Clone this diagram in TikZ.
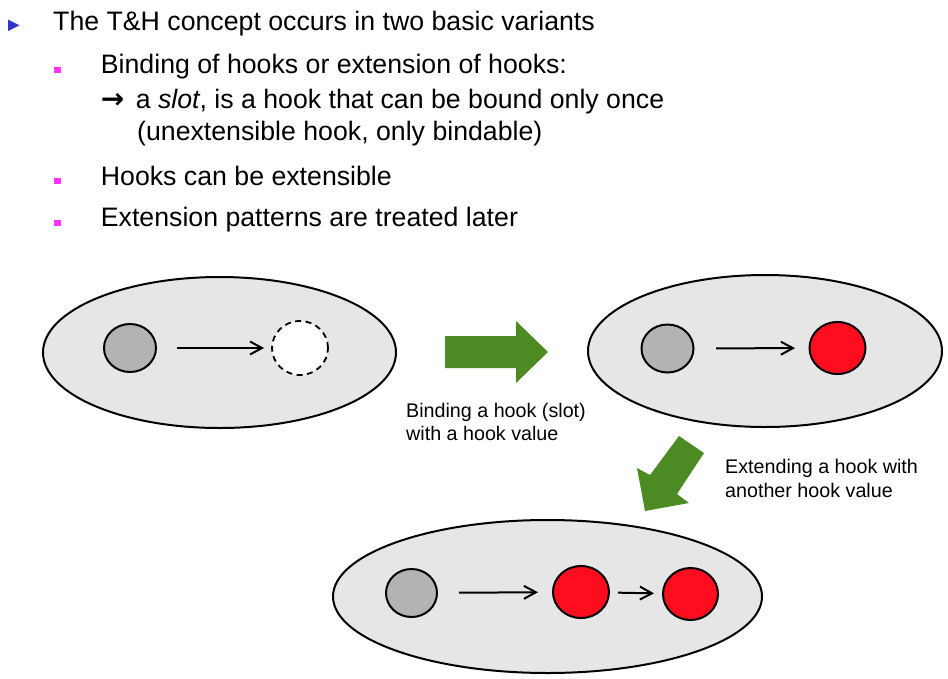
\documentclass[tikz,border=0pt]{standalone}
\usepackage{fontspec}
\setmainfont{Liberation Sans}
\newfontfamily\dejavu{DejaVu Sans}
\usetikzlibrary{shapes.geometric,arrows.meta}
\definecolor{ellfill}{HTML}{E6E6E6}
\definecolor{hookgray}{HTML}{B3B3B3}
\definecolor{hookred}{RGB}{255,13,30}
\definecolor{bigarrow}{RGB}{76,138,36}
\definecolor{bulletblue}{RGB}{51,51,204}
\definecolor{bulletmag}{RGB}{255,51,255}
\tikzset{
  bodytext/.style={anchor=base west, inner sep=0pt, font=\fontsize{26.7}{30}\selectfont},
  captext/.style={anchor=base west, inner sep=0pt, font=\fontsize{19.7}{23}\selectfont},
  container/.style={ellipse, draw=black, line width=2pt, fill=ellfill, inner sep=0pt},
  hookfrom/.style={ellipse, draw=black, line width=2pt, fill=hookgray, inner sep=0pt, minimum width=52pt, minimum height=48pt},
  hookval/.style={ellipse, draw=black, line width=2pt, fill=hookred, inner sep=0pt, minimum width=56pt, minimum height=52pt},
  slotnode/.style={ellipse, draw=black, line width=1.8pt, dash pattern=on 6pt off 4.5pt, fill=white, inner sep=0pt, minimum width=56pt, minimum height=54pt},
  link/.style={line width=2pt, -{Straight Barb[length=12pt,width=13pt,line width=2pt]}},
}
\begin{document}
\begin{tikzpicture}[x=1pt,y=-1pt]
\useasboundingbox (0,0) rectangle (948,678);
% bullets
\fill[bulletblue] (8,19.5) -- (19.5,25.3) -- (8,31) -- cycle;
\fill[bulletmag] (54,66.5) rectangle (60.7,73);
\fill[bulletmag] (54,177.5) rectangle (60.7,184);
\fill[bulletmag] (54,219.5) rectangle (60.7,226.2);
% text
\node[bodytext] (t1) at (53,30.7) {The T\&H concept occurs in two basic variants};
\node[bodytext] (b1a) at (100.7,73.3) {Binding of hooks or extension of hooks:};
\node[bodytext] (b1b) at (100.7,108.3) {{\dejavu\bfseries\fontsize{28}{30}\selectfont →}\hspace{4pt} a \textit{slot}, is a hook that can be bound only once};
\node[bodytext] (b1c) at (137,140.5) {(unextensible hook, only bindable)};
\node[bodytext] (b2) at (100.7,185) {Hooks can be extensible};
\node[bodytext] (b3) at (100.7,226.7) {Extension patterns are treated later};
% containers
\node[container, minimum width=353pt, minimum height=151pt] (e1) at (219.5,352.5) {};
\node[container, minimum width=354pt, minimum height=152pt] (e2) at (765,351) {};
\node[container, minimum width=429pt, minimum height=153pt] (e3) at (547.5,596.5) {};
% hooks
\node[hookfrom] (g1) at (130,348) {};
\node[slotnode] (d1) at (300,348) {};
\node[hookfrom] (g2) at (667.5,348.5) {};
\node[hookval] (r2) at (837.5,348) {};
\node[hookfrom, minimum width=51pt] (g3) at (411.5,593) {};
\node[hookval] (r3a) at (581,592) {};
\node[hookval, minimum width=55pt] (r3b) at (690.5,594) {};
% links
\draw[link, shorten <=20pt, shorten >=7pt] (g1) -- (d1);
\draw[link, shorten <=21.5pt, shorten >=13.5pt] (g2) -- (r2);
\draw[link, shorten <=21pt, shorten >=14pt] (g3) -- (r3a);
\draw[link, shorten <=8pt, shorten >=8pt] (r3a) -- (r3b);
% big green arrows
\fill[bigarrow] (445,336) -- (516,336) -- (516,321) -- (548,352) -- (516,383) -- (516,368) -- (445,368) -- cycle;
\fill[bigarrow] (679,436) -- (704,453) -- (677,494) -- (689,503) -- (645,511) -- (637,468) -- (650,475) -- cycle;
% captions
\node[captext] (c1a) at (406,417) {Binding a hook (slot)};
\node[captext] (c1b) at (406,440) {with a hook value};
\node[captext] (c2a) at (725,473) {Extending a hook with};
\node[captext] (c2b) at (725,497.5) {another hook value};
\end{tikzpicture}
\end{document}
